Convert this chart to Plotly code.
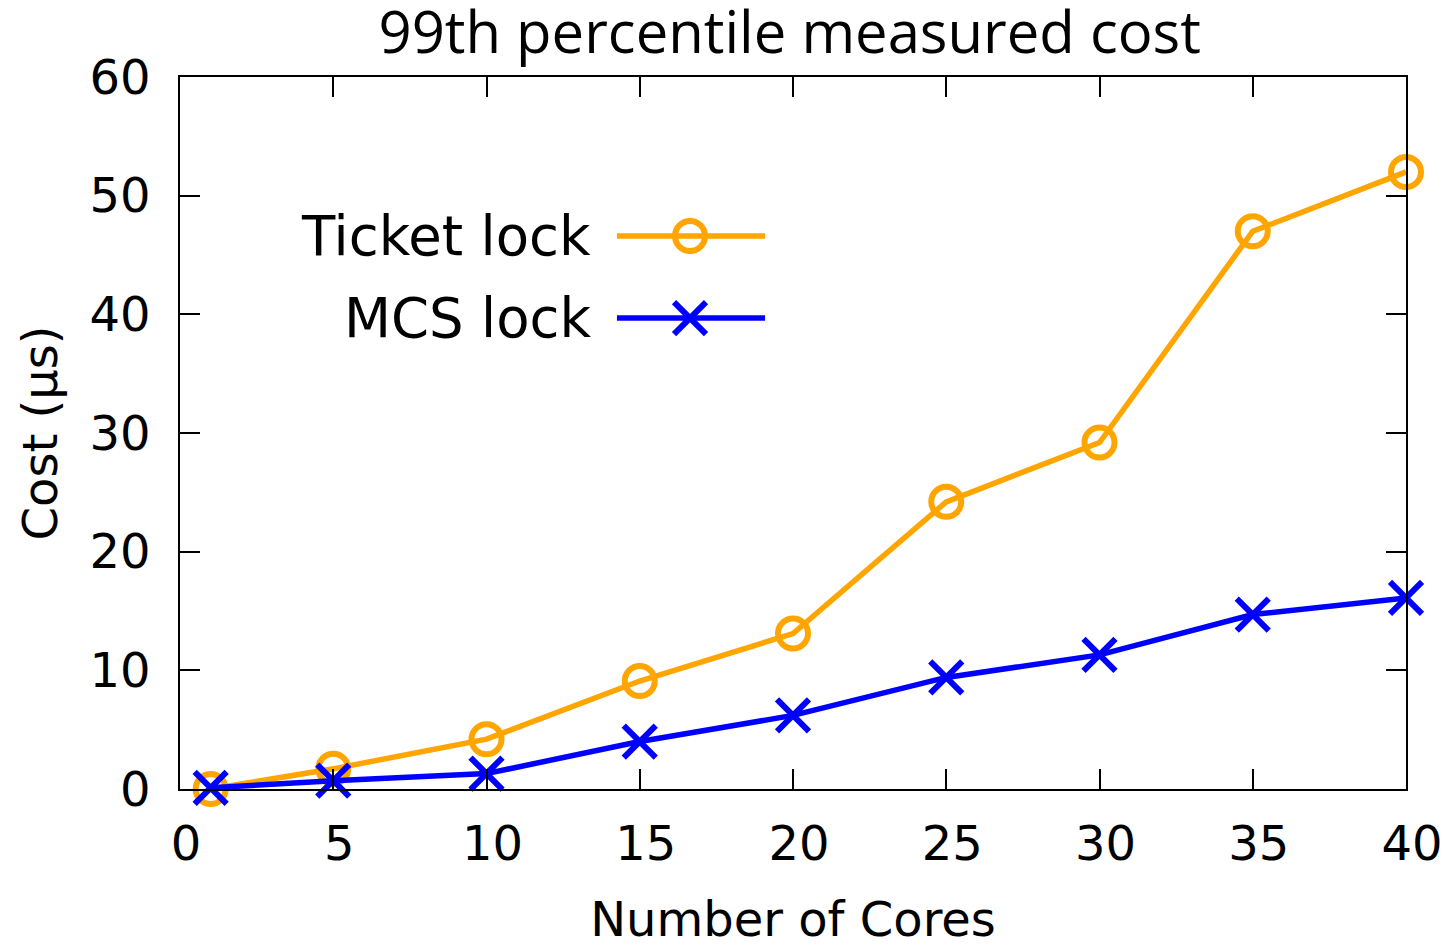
import plotly.graph_objects as go

# Measured 99th percentile lock cost vs. core count
cores = [1, 5, 10, 15, 20, 25, 30, 35, 40]
ticket_lock = [0.0, 1.7, 4.2, 9.1, 13.1, 24.2, 29.2, 47.0, 52.0]
mcs_lock = [0.1, 0.7, 1.3, 4.0, 6.2, 9.4, 11.3, 14.7, 16.1]

x_ticks = [0, 5, 10, 15, 20, 25, 30, 35, 40]
y_ticks = [0, 10, 20, 30, 40, 50, 60]

series_names = ["Ticket lock", "MCS lock"]
ORANGE = "#FFA500"
BLUE = "#0000FF"
FONT = "DejaVu Sans"

# Key layout (fractions of the plotting area)
key_text_right = 0.3365
key_line_x = [0.3564, 0.4772]
key_mark_x = 0.416
key_rows_y = [0.7767, 0.6615]

fig = go.Figure()

fig.add_trace(go.Scatter(
    x=cores, y=ticket_lock, mode="lines+markers", name=series_names[0],
    line=dict(color=ORANGE, width=5.5),
    marker=dict(symbol="circle-open", size=30, color=ORANGE, line=dict(width=6, color=ORANGE)),
    cliponaxis=False, showlegend=False,
))
fig.add_trace(go.Scatter(
    x=cores, y=mcs_lock, mode="lines+markers", name=series_names[1],
    line=dict(color=BLUE, width=5.5),
    marker=dict(symbol="x-thin-open", size=32, color=BLUE, line=dict(width=6, color=BLUE)),
    cliponaxis=False, showlegend=False,
))

# Key samples on an overlay axis spanning the plotting area
styles = [
    dict(color=ORANGE, symbol="circle-open", size=30),
    dict(color=BLUE, symbol="x-thin-open", size=32),
]
for name, st, ky in zip(series_names, styles, key_rows_y):
    fig.add_trace(go.Scatter(
        x=key_line_x, y=[ky, ky], mode="lines", xaxis="x2", yaxis="y2",
        line=dict(color=st["color"], width=5.5), showlegend=False, hoverinfo="skip",
    ))
    fig.add_trace(go.Scatter(
        x=[key_mark_x], y=[ky], mode="markers", xaxis="x2", yaxis="y2",
        marker=dict(symbol=st["symbol"], size=st["size"], color=st["color"],
                    line=dict(width=6, color=st["color"])),
        showlegend=False, hoverinfo="skip",
    ))
    fig.add_annotation(
        x=key_text_right, y=ky, xref="paper", yref="paper", text=name,
        showarrow=False, xanchor="right", yanchor="middle",
        font=dict(family=FONT, size=54.5, color="black"),
    )

axis_common = dict(
    showline=True, linecolor="black", linewidth=1.5, mirror="allticks",
    ticks="inside", ticklen=20, tickwidth=1.5, tickcolor="black",
    showgrid=False, zeroline=False,
    tickfont=dict(family=FONT, size=48, color="black"),
)

fig.update_layout(
    width=1445, height=947,
    margin=dict(l=180, r=39, t=77, b=158, autoexpand=False),
    paper_bgcolor="white", plot_bgcolor="white",
    title=dict(
        text="99th percentile measured cost", x=0.5465, xanchor="center",
        y=0.965, yanchor="middle",
        font=dict(family="Open Sans", size=58, color="black"),
    ),
    xaxis=dict(
        range=[0, 40], tickvals=x_ticks, ticktext=[str(v) for v in x_ticks],
        ticklabelstandoff=12, ticklabelshift=6,
        title=dict(text="Number of Cores", standoff=41,
                   font=dict(family=FONT, size=48, color="black")),
        **axis_common,
    ),
    yaxis=dict(
        range=[0, 60], tickvals=y_ticks, ticktext=[str(v) for v in y_ticks],
        ticklabelstandoff=18,
        title=dict(text="Cost (µs)", standoff=17,
                   font=dict(family=FONT, size=48, color="black")),
        **axis_common,
    ),
    xaxis2=dict(range=[0, 1], overlaying="x", visible=False, fixedrange=True),
    yaxis2=dict(range=[0, 1], overlaying="y", visible=False, fixedrange=True),
    showlegend=False,
)

fig.write_html("out.html")
